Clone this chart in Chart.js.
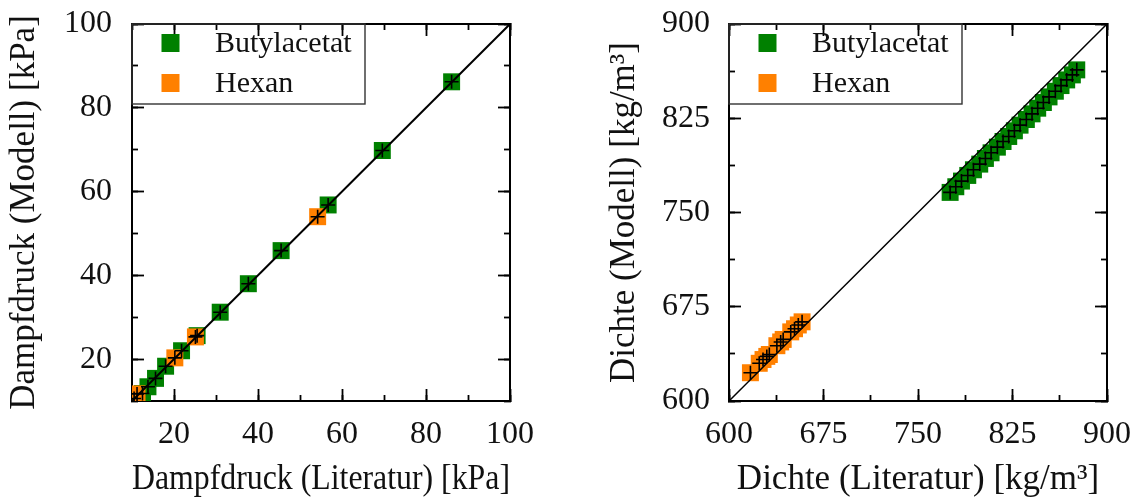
<!DOCTYPE html>
<html>
<head>
<meta charset="utf-8">
<script src="https://cdn.jsdelivr.net/npm/chart.js@4.4.0/dist/chart.umd.min.js"></script>
<style>
  html, body { margin: 0; padding: 0; background: #fff; }
  #wrap { position: relative; width: 1139px; height: 502px; }
  canvas { position: absolute; top: 0; }
  #druckChart { left: 0; }
  #dichteChart { left: 570px; }
</style>
</head>
<body>
<div id="wrap">
  <canvas id="druckChart" width="560" height="502"></canvas>
  <canvas id="dichteChart" width="569" height="502"></canvas>
</div>
<script>
// Dampfdruck [kPa]: Literatur (x) vs. Modell (y)
const butylDruckLit = [12.5, 13.8, 15.6, 18.0, 21.8, 25.5, 31.0, 37.7, 45.5, 56.7, 69.6, 86.1];
const butylDruckMod = [11.8, 13.4, 15.4, 18.3, 22.0, 25.6, 31.2, 38.0, 45.9, 56.8, 69.8, 86.2];
const hexanDruckLit = [10.5, 11.2, 20.2, 25.1, 54.2];
const hexanDruckMod = [10.6, 11.7, 20.3, 25.3, 54.0];

// Dichte [kg/m3]: Literatur (x) vs. Modell (y)
const butylDichteLit = [775.5, 780, 784.5, 789.5, 794, 799, 803.5, 808, 813, 817.5, 822, 826.5,
                        831, 836, 840.5, 845, 849.5, 854, 859, 863.5, 868, 872.5, 876];
const butylDichteMod = [766, 770.5, 775, 779.5, 784, 788.5, 793, 797.5, 802, 806.5, 810.5, 815,
                        819.5, 824, 828.5, 833, 837.5, 842, 846.5, 851, 855.5, 859.5, 863.5];
const hexanDichteLit = [617, 624, 627, 630, 632, 638, 641, 643, 649, 652, 655, 658];
const hexanDichteMod = [622.5, 630, 633, 635.5, 637, 644, 647, 649, 655, 657.5, 660.5, 663];

// axes
const druckRange = [10, 100];
const druckTicks = [20, 40, 60, 80, 100];
const druckMinor = [10, 20, 30, 40, 50, 60, 70, 80, 90, 100];
const dichteRange = [600, 900];
const dichteTicks = [600, 675, 750, 825, 900];
const dichteMinor = [600, 637.5, 675, 712.5, 750, 787.5, 825, 862.5, 900];

const GREEN = 'rgb(0,128,0)';
const ORANGE = 'rgb(255,128,0)';
const FONT = "'Liberation Serif', serif";

function toPoints(xs, ys) {
  return xs.map((x, i) => ({ x: x, y: ys[i] }));
}

// legend in a frame in the upper left corner of the plot
const framedLegend = {
  id: 'framedLegend',
  afterDatasetsDraw(chart) {
    const ctx = chart.ctx;
    const area = chart.chartArea;
    const items = chart.data.datasets.filter(d => d.inLegend);
    ctx.save();
    ctx.strokeStyle = '#333';
    ctx.lineWidth = 1.4;
    ctx.strokeRect(area.left, area.top, 233, 80);
    ctx.font = '30px ' + FONT;
    ctx.textBaseline = 'middle';
    items.forEach((d, i) => {
      const cy = area.top + 19 + i * 40;
      ctx.fillStyle = d.backgroundColor;
      ctx.fillRect(area.left + 29.5, cy - 9, 18, 18);
      ctx.fillStyle = '#111';
      ctx.fillText(d.label, area.left + 83, cy + 1);
    });
    ctx.restore();
  }
};

function makeScales(range, major, minor, xTitle, yTitle, yWidth, xHeight, yTitlePad, yTickPad) {
  const scale = (pos, list, len, weight, labels) => ({
    type: 'linear',
    position: pos,
    min: range[0],
    max: range[1],
    weight: weight,
    afterBuildTicks: s => { s.ticks = list.map(v => ({ value: v })); },
    afterFit: s => {
      if (pos === 'left') s.width = labels ? yWidth : 0;
      else if (pos === 'bottom') s.height = labels ? xHeight : 0;
      else if (pos === 'right') s.width = 0;
      else s.height = 0;
      s.paddingTop = 0; s.paddingBottom = 0; s.paddingLeft = 0; s.paddingRight = 0;
    },
    grid: { drawOnChartArea: false, drawTicks: true, tickLength: -len, tickWidth: 1.8, tickColor: '#000' },
    border: { display: true, color: '#000', width: 2 },
    ticks: {
      display: labels,
      padding: pos === 'left' ? yTickPad : 26,
      color: '#111',
      font: { family: FONT, size: 32 },
      callback: v => String(v)
    }
  });
  const sc = {
    x: scale('bottom', major, 12, 1, true),
    xm: scale('bottom', minor, 6, 0, false),
    xt: scale('top', major, 12, 1, false),
    xtm: scale('top', minor, 6, 0, false),
    y: scale('left', major, 12, 1, true),
    ym: scale('left', minor, 6, 0, false),
    yr: scale('right', major, 12, 1, false),
    yrm: scale('right', minor, 6, 0, false)
  };
  sc.x.title = { display: true, text: xTitle, color: '#111', font: { family: FONT, size: 35 }, padding: 1 };
  sc.y.title = { display: true, text: yTitle, color: '#111', font: { family: FONT, size: 35 }, padding: yTitlePad };
  return sc;
}

function makeChart(id, range, major, minor, butylX, butylY, hexanX, hexanY, xTitle, yTitle,
                   yWidth, rightPad, lineWidth, yTitlePad, yTickPad) {
  const diag = [{ x: range[0], y: range[0] }, { x: range[1], y: range[1] }];
  return new Chart(document.getElementById(id), {
    type: 'scatter',
    data: {
      datasets: [
        { label: 'Butylacetat', inLegend: true, data: toPoints(butylX, butylY), pointStyle: 'rect',
          pointRadius: 12, backgroundColor: GREEN, borderWidth: 0, order: 4 },
        { label: 'Hexan', inLegend: true, data: toPoints(hexanX, hexanY), pointStyle: 'rect',
          pointRadius: 12, backgroundColor: ORANGE, borderWidth: 0, order: 3 },
        { label: 'diag', data: diag, showLine: true, pointRadius: 0, borderColor: '#000',
          borderWidth: lineWidth, order: 2 },
        { label: 'bx', data: toPoints(butylX, butylY), pointStyle: 'cross', pointRadius: 7,
          borderColor: '#000', borderWidth: 1.6, order: 1 },
        { label: 'hx', data: toPoints(hexanX, hexanY), pointStyle: 'cross', pointRadius: 7,
          borderColor: '#000', borderWidth: 1.6, order: 1 }
      ]
    },
    options: {
      responsive: false,
      animation: false,
      devicePixelRatio: 1,
      layout: { padding: { top: 24, right: rightPad, bottom: 0, left: 0 } },
      plugins: { legend: { display: false }, tooltip: { enabled: false } },
      events: [],
      scales: makeScales(range, major, minor, xTitle, yTitle, yWidth, 101, yTitlePad, yTickPad)
    },
    plugins: [framedLegend]
  });
}

makeChart('druckChart', druckRange, druckTicks, druckMinor,
  butylDruckLit, butylDruckMod, hexanDruckLit, hexanDruckMod,
  'Dampfdruck (Literatur) [kPa]', 'Dampfdruck (Modell) [kPa]', 132, 50, 2, 4, 32);

makeChart('dichteChart', dichteRange, dichteTicks, dichteMinor,
  butylDichteLit, butylDichteMod, hexanDichteLit, hexanDichteMod,
  'Dichte (Literatur) [kg/m³]', 'Dichte (Modell) [kg/m³]', 159, 32, 1.5, 34, 31);
</script>
</body>
</html>
